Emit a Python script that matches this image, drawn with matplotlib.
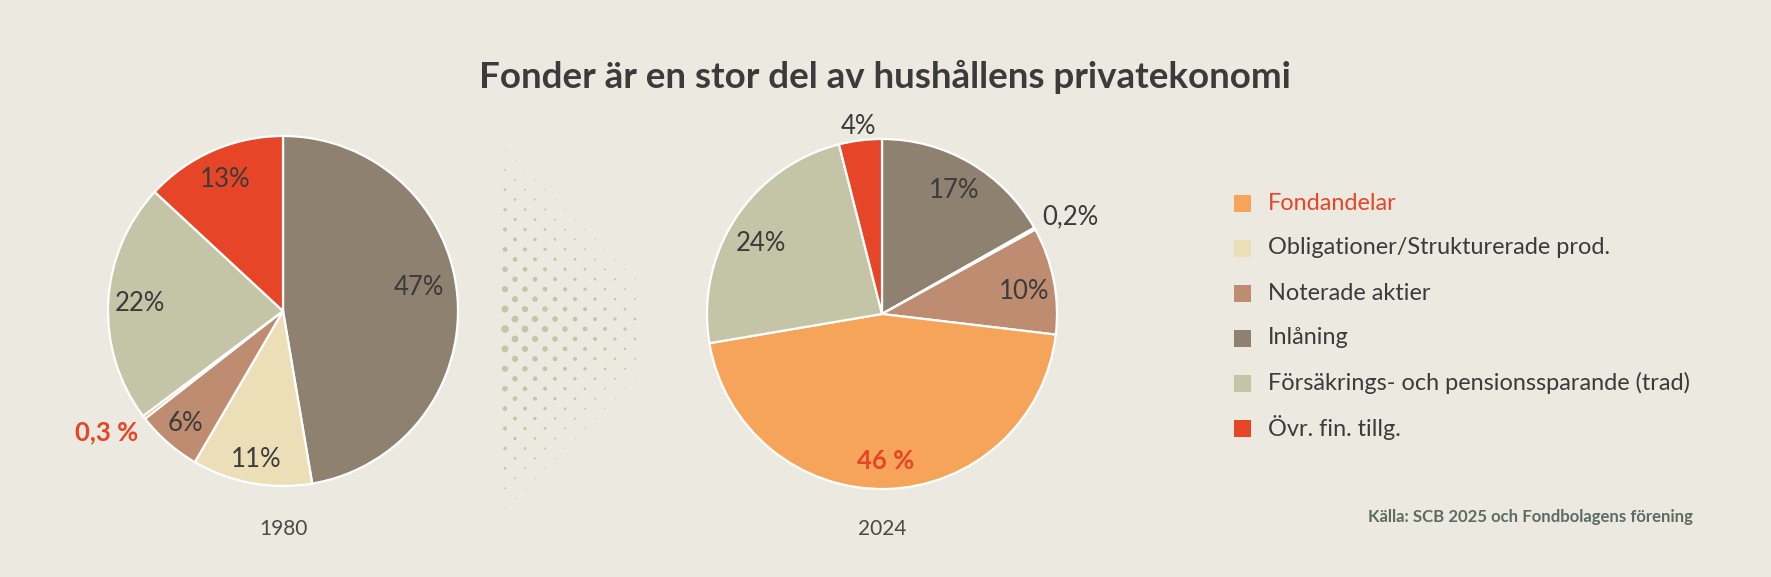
import matplotlib
matplotlib.use('Agg')

import matplotlib.pyplot as plt
import numpy as np
from matplotlib.patches import Rectangle

plt.rcParams['font.family'] = ['Lato', 'DejaVu Sans']

"""
 data (andel av hushållens finansiella tillgångar, %)
"""
categories = ['Fondandelar', 'Obligationer/Strukturerade prod.', 'Noterade aktier',
              'Inlåning', 'Försäkrings- och pensionssparande (trad)', 'Övr. fin. tillg.']
colors = ['#f5a45a', '#ecdfb8', '#be8c70', '#8e8170', '#c4c5a6', '#e64528']
years = ['1980', '2024']
share_1980 = [0.3, 11, 6, 47, 22, 13]
share_2024 = [46, 0.2, 10, 17, 24, 4]
labels_1980 = ['0,3 %', '11%', '6%', '47%', '22%', '13%']
labels_2024 = ['46 %', '0,2%', '10%', '17%', '24%', '4%']

# slices clockwise from 12 o'clock
pie_order = [3, 1, 2, 0, 4, 5]

"""
 layout (pixels)
"""
W, H = 1771, 577
bg = '#ece9e1'
dark = '#3b3b3b'
red = '#e64528'
centers = [(283, H - 311), (882, H - 314)]
radius = 175
# label distance (fraction of radius) and angle nudge (deg, clockwise) per category
dist_1980 = [1.22, 0.86, 0.85, 0.79, 0.82, 0.82]
dist_2024 = [0.84, 1.21, 0.82, 0.82, 0.80, 1.08]
nudge_1980 = [3, 0, 0, -5, 0, 0]
nudge_2024 = [0, 2, 2, 0, -3, 0]

fig = plt.figure(figsize=(W / 100, H / 100), dpi=100, facecolor=bg)
ax = fig.add_axes([0, 0, 1, 1])
ax.set_facecolor(bg)

for shares, labs, dists, nudges, (cx, cy), year in zip(
        [share_1980, share_2024], [labels_1980, labels_2024],
        [dist_1980, dist_2024], [nudge_1980, nudge_2024], centers, years):
    vals = [shares[i] for i in pie_order]
    cols = [colors[i] for i in pie_order]
    wedges, _ = ax.pie(vals, colors=cols, startangle=90, counterclock=False,
                       center=(cx, cy), radius=radius,
                       wedgeprops=dict(edgecolor='white', linewidth=1.6))
    for w, i in zip(wedges, pie_order):
        mid = np.deg2rad((w.theta1 + w.theta2) / 2 - nudges[i])
        d = dists[i] * radius
        x = cx + d * np.cos(mid)
        y = cy + d * np.sin(mid)
        if i == 0:
            ax.text(x, y, labs[i], ha='center', va='center', fontsize=18.5,
                    color=red, fontweight='bold')
        else:
            ax.text(x, y, labs[i], ha='center', va='center', fontsize=18.5, color=dark)
    ax.text(cx, H - 529, year, ha='center', va='center', fontsize=15, color='#4a4a4a')

"""
 halftone decoration between the pies
"""
x0, y0 = 505, H - 329
for j in range(-18, 19):
    dy = abs(j) * 9.95
    off = 0 if j % 2 == 0 else 10
    dx = np.arange(off, 131, 20)
    dx = dx[dx + dy <= 181]
    diam = np.clip(7.6 - 0.036 * (dx + dy), 0.9, None)
    ax.scatter(x0 + dx, np.full(len(dx), y0 - j * 9.95), s=(diam * 0.72) ** 2,
               color='#c5c6a6', linewidths=0, zorder=1)

"""
 legend
"""
for k, cat in enumerate(categories):
    y = H - (203 + 45 * k)
    ax.add_patch(Rectangle((1234, y - 8.5), 17, 17, facecolor=colors[k], edgecolor='none'))
    ax.text(1268, y, cat, ha='left', va='center', fontsize=16.9,
            color=red if k == 0 else dark)

ax.text(885, H - 77, 'Fonder är en stor del av hushållens privatekonomi',
        ha='center', va='center', fontsize=26.5, fontweight='bold', color=dark)
ax.text(1693, H - 517, 'Källa: SCB 2025 och Fondbolagens förening',
        ha='right', va='center', fontsize=12.1, fontweight='bold', color='#5d6b63')

ax.set_xlim(0, W)
ax.set_ylim(0, H)
ax.set_aspect('auto')
ax.axis('off')

plt.savefig('out.png', dpi=100, facecolor=bg)
plt.close()
